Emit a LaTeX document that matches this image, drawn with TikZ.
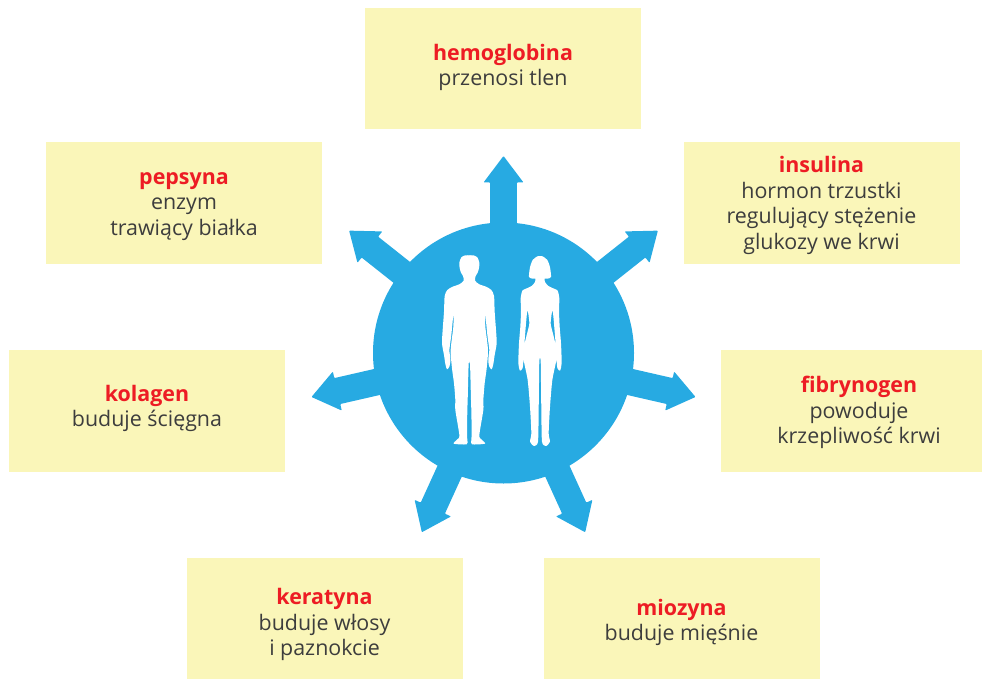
\documentclass[tikz,border=0pt]{standalone}
\usepackage{fontspec}
\setmainfont{Open Sans}
\definecolor{boxyellow}{HTML}{FAF6B9}
\definecolor{hubblue}{HTML}{27AAE2}
\definecolor{headred}{HTML}{ED1C24}
\definecolor{bodygrey}{HTML}{3D3D3D}
\newcommand{\protein}[2]{{\bfseries\color{headred}#1}\\#2}
\newcommand{\blockarrow}[1]{%
  \fill[hubblue,rounded corners=0.8pt,shift={(hub.center)},rotate=#1]
    (110,-13.3) -- (170.5,-13.3) -- (170.5,-20) -- (197,0) -- (170.5,20) -- (170.5,13.3) -- (110,13.3) -- cycle;}
\tikzset{
  x=1pt,y=-1pt,
  card/.style={fill=boxyellow,draw=none,inner sep=0pt,minimum height=121.5pt,minimum width=276pt},
  caption/.style={align=center,text=bodygrey,font=\fontsize{21.4}{25.6}\selectfont,inner sep=0pt},
  figure/.style={fill=white,draw=none}
}
\begin{document}
\begin{tikzpicture}
\useasboundingbox (0,0) rectangle (982,679);
% cards
\node[card] (b1) at (503,68.5) {};
\node[card] (b2) at (184,203) {};
\node[card] (b3) at (821.5,203) {};
\node[card] (b4) at (147,411) {};
\node[card,minimum width=261pt] (b5) at (851.5,411) {};
\node[card] (b6) at (324.5,618.5) {};
\node[card] (b7) at (681.5,618.5) {};
% hub and arrows
\node[circle,fill=hubblue,minimum size=261pt,inner sep=0pt] (hub) at (503.5,353) {};
\blockarrow{90}
\blockarrow{38.4}
\blockarrow{141.6}
\blockarrow{-12.9}
\blockarrow{192.9}
\blockarrow{-65.5}
\blockarrow{245.5}
% captions
\node[caption] (t1) at (503,67.5) {\protein{hemoglobina}{przenosi tlen}};
\node[caption] (t2) at (184,206.5) {\protein{pepsyna}{enzym\\trawiący białka}};
\node[caption] (t3) at (821.5,205.5) {\protein{insulina}{hormon trzustki\\regulujący stężenie\\glukozy we krwi}};
\node[caption] (t4) at (147,408.5) {\protein{kolagen}{buduje ścięgna}};
\node[caption] (t5) at (859,412.5) {\protein{fibrynogen}{powoduje\\krzepliwość krwi}};
\node[caption] (t6) at (324.5,624.5) {\protein{keratyna}{buduje włosy\\i paznokcie}};
\node[caption] (t7) at (681.5,622.5) {\protein{miozyna}{buduje mięśnie}};
% man
\begin{scope}[shift={(420,240)},scale=1/3]
\foreach \s in {1,-1}{
\begin{scope}[shift={(148,0)},xscale=\s]
\fill[figure] plot[smooth,tension=.45] coordinates {(-1,46) (12,46) (24,52) (30,68) (29,84) (25,98) (19,108) (17,122) (30,133) (50,140) (66,150) (74,168) (76,215) (80,270) (82,310) (76,345) (72,372) (67,388) (60,380) (57,365) (58,345) (60,330) (54,285) (48,225) (48,260) (56,330) (52,385) (46,430) (42,480) (42,510) (30,585) (36,598) (47,611) (8,613) (6,600) (7,580) (6,510) (5,480) (2,370) (-1,370)} -- cycle;
\end{scope}}
\end{scope}
% woman
\begin{scope}[shift={(420,240)},scale=1/3]
\foreach \s in {1,-1}{
\begin{scope}[shift={(360,0)},xscale=\s]
\fill[figure] plot[smooth,tension=.4] coordinates {(-1,48) (8,49) (22,60) (30,82) (33,111) (22,116) (14,116) (15,126) (25,138) (42,146) (53,152) (58,175) (57,212) (59,260) (63,310) (65,370) (60,392) (52,384) (49,350) (46,300) (38,212) (32,250) (40,285) (49,325) (49,360) (37,420) (30,500) (26,580) (30,605) (18,618) (6,605) (4,510) (2,360) (-1,360)} -- cycle;
\end{scope}}
\end{scope}
\end{tikzpicture}
\end{document}
